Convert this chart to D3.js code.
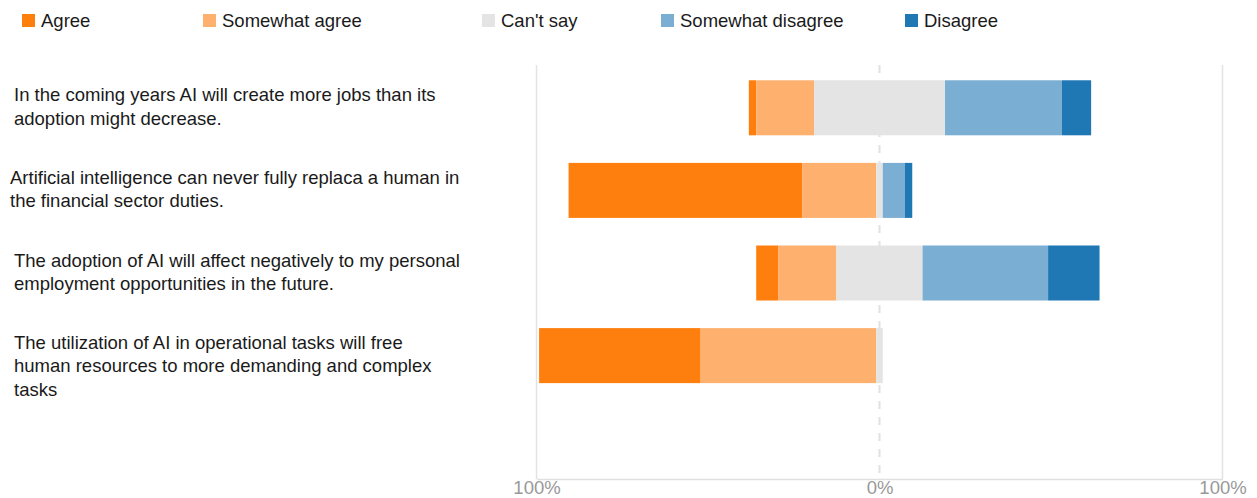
<!DOCTYPE html>
<html>
<head>
<meta charset="utf-8">
<script src="https://cdn.jsdelivr.net/npm/d3@7"></script>
<style>
  html, body { margin: 0; padding: 0; background: #fff; }
  svg { display: block; font-family: "Liberation Sans", Arial, sans-serif; }
</style>
</head>
<body>
<svg id="chart" width="1257" height="498"></svg>
<script>
// ---- Data ----
const categories = [
  "In the coming years AI will create more jobs than its\nadoption might decrease.",
  "Artificial intelligence can never fully replaca a human in\nthe financial sector duties.",
  "The adoption of AI will affect negatively to my personal\nemployment opportunities in the future.",
  "The utilization of AI in operational tasks will free\nhuman resources to more demanding and complex\ntasks"
];
const seriesNames = ["Agree", "Somewhat agree", "Can't say", "Somewhat disagree", "Disagree"];
const agree            = [2.2, 68.1, 6.4, 47.1];
const somewhatAgree    = [16.8, 21.6, 17.0, 51.2];
const cantSay          = [38.2, 1.9, 25.1, 1.9];
const somewhatDisagree = [34.1, 6.4, 36.6, 0];
const disagree         = [8.5, 2.2, 15.0, 0];
const tickValues = [-100, 0, 100];
const tickLabels = ["100%", "0%", "100%"];

// ---- Style / layout ----
const colors = ["#ff7f0e", "#feb06e", "#e4e4e4", "#7aaed3", "#1f77b4"];
const legendX = [22, 203, 482, 661, 905];
const labelX = [14, 10, 14, 14];
const fontSize = 18.5;

const svg = d3.select("#chart");

const x = d3.scaleLinear().domain([-100, 100]).range([536.5, 1222.5]);
const y = d3.scaleBand().domain(d3.range(categories.length))
  .range([65, 398.4]).paddingInner(0.334).paddingOuter(0.185);

const plotTop = 65, plotBottom = 479;

// gridlines at +-100
svg.append("g").selectAll("line").data([-100, 100]).join("line")
  .attr("x1", d => x(d)).attr("x2", d => x(d))
  .attr("y1", plotTop).attr("y2", plotBottom)
  .attr("stroke", "#e3e3e3").attr("stroke-width", 1.5);

// zero dashed line
svg.append("line")
  .attr("x1", x(0)).attr("x2", x(0))
  .attr("y1", plotTop).attr("y2", plotBottom)
  .attr("stroke", "#e2e2e2").attr("stroke-width", 2)
  .attr("stroke-dasharray", "8,8");

// axis
const axis = d3.axisBottom(x).tickValues(tickValues)
  .tickFormat((d, i) => tickLabels[i]).tickSize(0).tickSizeOuter(0).tickPadding(1.5);
const gAxis = svg.append("g").attr("transform", `translate(0,${plotBottom})`).call(axis);
gAxis.select(".domain").attr("stroke", "#e0e0e0").attr("stroke-width", 1.5);
gAxis.selectAll("text").attr("fill", "#999").style("font-size", fontSize + "px")
  .style("font-family", "Liberation Sans, Arial, sans-serif");

// stacked diverging bars
const series = [agree, somewhatAgree, cantSay, somewhatDisagree, disagree];
const segs = [];
categories.forEach((c, i) => {
  let start = -(agree[i] + somewhatAgree[i] + cantSay[i] / 2);
  series.forEach((s, k) => {
    const v = s[i];
    if (v > 0) segs.push({ i, k, x0: start, x1: start + v });
    start += v;
  });
});
svg.append("g").selectAll("rect").data(segs).join("rect")
  .attr("x", d => x(d.x0))
  .attr("width", d => x(d.x1) - x(d.x0))
  .attr("y", d => y(d.i))
  .attr("height", y.bandwidth())
  .attr("fill", d => colors[d.k]);

// category labels
const lineH = 23.3;
const gLab = svg.append("g").attr("fill", "#1a1a1a").style("font-size", fontSize + "px");
categories.forEach((c, i) => {
  const cy = y(i) + y.bandwidth() / 2;
  const t = gLab.append("text").attr("x", labelX[i]).attr("y", cy - 6.5);
  c.split("\n").forEach((ln, j) => {
    t.append("tspan").attr("x", labelX[i]).attr("y", cy - 6.5 + j * lineH).text(ln);
  });
});

// legend
const gLeg = svg.append("g").style("font-size", fontSize + "px");
seriesNames.forEach((n, k) => {
  gLeg.append("rect").attr("x", legendX[k]).attr("y", 14).attr("width", 13).attr("height", 13)
    .attr("fill", colors[k]);
  gLeg.append("text").attr("x", legendX[k] + 19).attr("y", 27).attr("fill", "#1a1a1a").text(n);
});
</script>
</body>
</html>
